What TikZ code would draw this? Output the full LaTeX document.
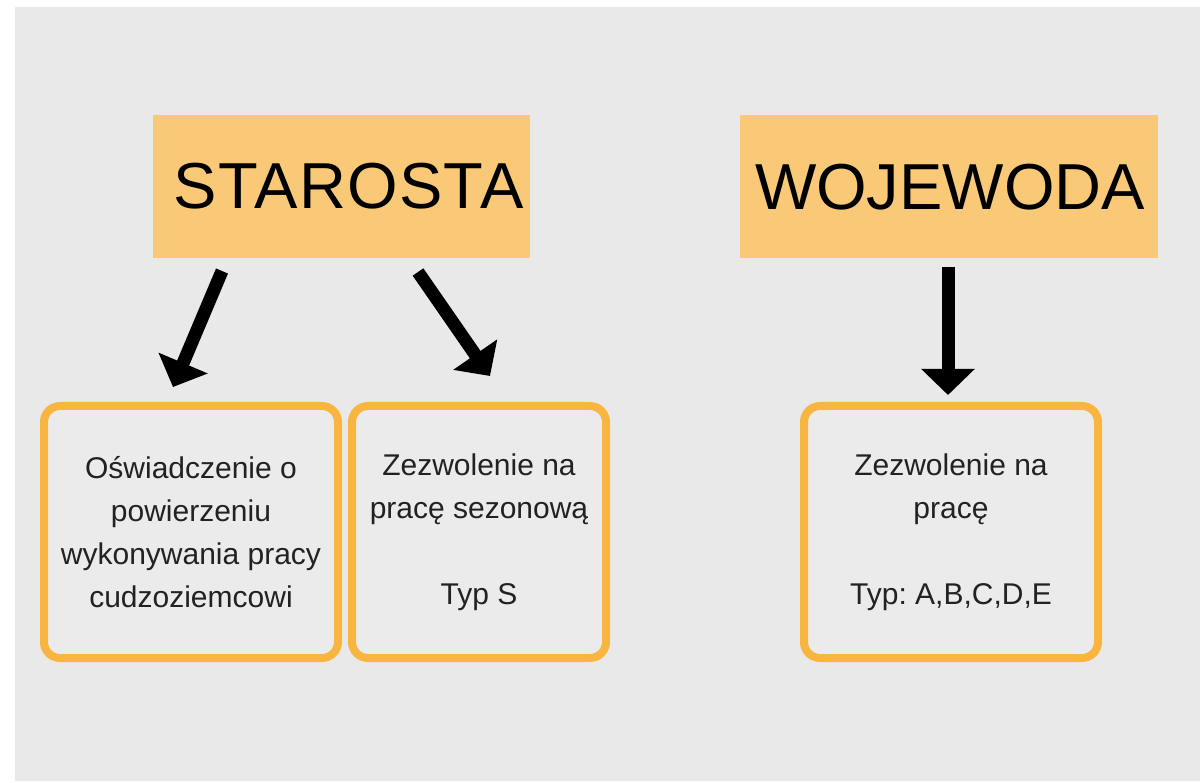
\documentclass[tikz,border=0pt]{standalone}
\usepackage{fontspec}
\setmainfont{Liberation Sans}
\usetikzlibrary{arrows.meta}
\frenchspacing
\definecolor{bggray}{HTML}{E9E9E9}
\definecolor{titlefill}{HTML}{F9C978}
\definecolor{boxborder}{HTML}{F8B53F}
\definecolor{boxfill}{HTML}{EBEBEB}
\definecolor{boxtext}{HTML}{222222}
\tikzset{
  titlebox/.style={fill=titlefill, draw=none, minimum width=377pt, minimum height=143pt, inner sep=0pt,
    font=\fontsize{65}{72}\selectfont, text=black},
  infobox/.style={draw=boxborder, fill=boxfill, line width=8pt, rounded corners=16pt,
    minimum height=252pt, inner sep=0pt, align=center, text=boxtext,
    font=\fontsize{30}{43}\selectfont},
  bigarrow/.style={draw=black, line width=13pt, -{Triangle[length=26pt,width=52pt]}}
}
\begin{document}
\begin{tikzpicture}[x=1pt,y=-1pt]
\useasboundingbox (0,0) rectangle (1200,783);
\fill[white] (0,0) rectangle (1200,783);
\fill[bggray] (15,7) rectangle (1200,781);
\node[titlebox] (starosta) at (341.5,186.5) {\hspace*{14pt}\addfontfeature{LetterSpace=2}STAROSTA};
\node[titlebox, minimum width=418pt] (wojewoda) at (949,187) {\hspace*{2pt}WOJEWODA};
\node[infobox, minimum width=294pt] (box1) at (191,532) {Oświadczenie o\\powierzeniu\\wykonywania pracy\\cudzoziemcowi};
\node[infobox, minimum width=254pt] (box2) at (479,532) {Zezwolenie na\\pracę sezonową\\[43pt]Typ S};
\node[infobox, minimum width=294pt] (box3) at (951,532) {Zezwolenie na\\pracę\\[43pt]Typ: A,B,C,D,E};
\coordinate (a1s) at (222,271);
\coordinate (a1e) at (173,387);
\coordinate (a2s) at (418,272);
\coordinate (a2e) at (490,376);
\draw[bigarrow] (a1s) -- (a1e);
\draw[bigarrow] (a2s) -- (a2e);
\draw[bigarrow, shorten <=8pt, shorten >=7pt] ([xshift=-1pt]wojewoda.south) -- ([xshift=-1pt]wojewoda.south |- box3.north);
\end{tikzpicture}
\end{document}
